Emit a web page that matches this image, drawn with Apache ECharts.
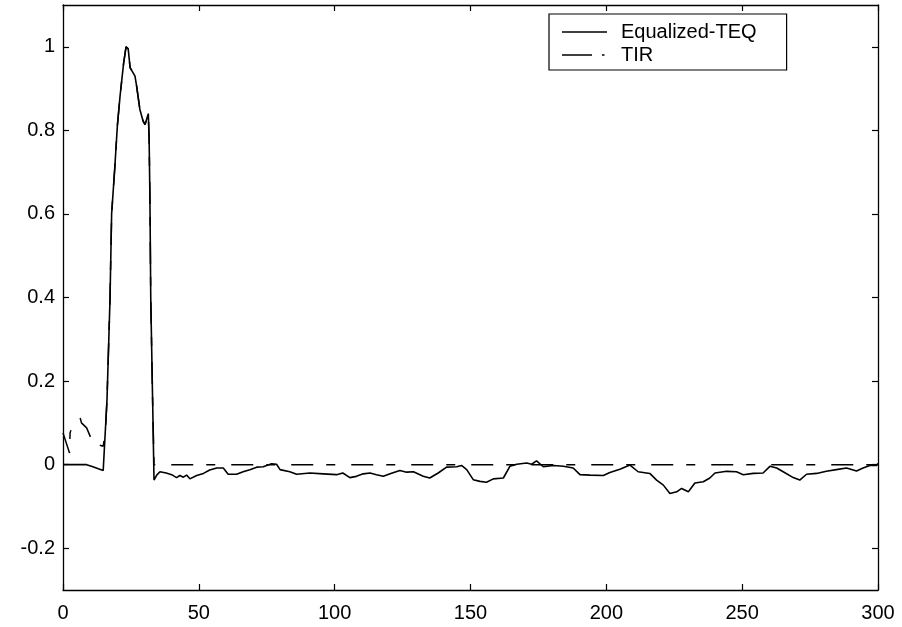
<!DOCTYPE html>
<html>
<head>
<meta charset="utf-8">
<script src="https://cdn.jsdelivr.net/npm/echarts@6/dist/echarts.min.js"></script>
<style>html,body{margin:0;padding:0;background:#fff}#c{width:902px;height:627px}</style>
</head>
<body>
<div id="c"></div>
<script>
var xTicks = [0, 50, 100, 150, 200, 250, 300];
var yTicks = [-0.2, 0, 0.2, 0.4, 0.6, 0.8, 1];
var seriesNames = ['Equalized-TEQ', 'TIR'];

var teqLeadN = [0, 8.7, 11, 13, 14.8];
var teqLeadV = [0, 0, -0.005, -0.01, -0.014];

var peakN = [16.2, 17.3, 17.9, 19.1, 20, 21, 22.3, 23.2, 24, 24.7, 26.5, 27.1, 28.3, 29.5, 30.2, 31.4, 31.7, 32, 32.3, 33];
var peakV = [0.156, 0.395, 0.6, 0.714, 0.81, 0.882, 0.96, 1.0, 0.995, 0.95, 0.93, 0.906, 0.85, 0.822, 0.814, 0.84, 0.78, 0.635, 0.4, 0.15];

var teqTailN = [33.5, 34.5, 35.7, 38, 40, 41.8, 43, 44.3, 45.5, 46.7, 49.2, 51.7, 54, 56.6, 59, 60.8, 63.9, 66.3, 68.8, 71.3, 73.7, 76.8, 78.6, 79.9, 83.5, 86, 90.9, 95.8, 100.7, 103, 105.6, 108, 110.5, 113, 115.4, 117.9, 120.4, 124, 126.5, 129, 132.6, 135, 138.1, 141.2, 144.9, 146.7, 148.6, 151, 153.5, 155.9, 158.4, 162.1, 164.5, 167, 170.7, 172.5, 174.3, 176.8, 180.5, 184.2, 187.8, 190.3, 194, 198.9, 201.3, 205, 208.7, 211.7, 212.4, 216, 218.5, 221, 223.4, 225.9, 227.7, 230.2, 232.6, 235.7, 238.1, 240, 244.3, 247.9, 250.4, 254.1, 257.7, 260.2, 262.7, 265.1, 268.8, 271.2, 273.7, 277.4, 281, 284.7, 288.4, 292.1, 294.5, 297, 299.5, 300];
var teqTailV = [-0.037, -0.025, -0.017, -0.02, -0.024, -0.031, -0.026, -0.03, -0.025, -0.034, -0.026, -0.021, -0.013, -0.008, -0.008, -0.023, -0.023, -0.017, -0.012, -0.006, -0.005, 0.002, 0.001, -0.012, -0.017, -0.023, -0.02, -0.022, -0.024, -0.02, -0.031, -0.028, -0.022, -0.02, -0.024, -0.028, -0.022, -0.014, -0.018, -0.017, -0.028, -0.032, -0.02, -0.006, -0.005, -0.002, -0.012, -0.036, -0.04, -0.042, -0.034, -0.032, -0.004, 0.001, 0.004, 0.001, 0.009, -0.005, -0.002, -0.004, -0.008, -0.024, -0.025, -0.026, -0.019, -0.011, -0.001, -0.017, -0.015, -0.021, -0.037, -0.049, -0.069, -0.065, -0.057, -0.065, -0.044, -0.041, -0.032, -0.02, -0.016, -0.017, -0.024, -0.021, -0.02, -0.004, -0.008, -0.017, -0.031, -0.037, -0.023, -0.021, -0.016, -0.012, -0.008, -0.015, -0.008, -0.002, -0.002, 0.003];

var tirLeadN = [0, 2.4, 2.6, 3.3, 5.5, 6.3, 6.8, 8.7, 10.5, 12.8, 14.8, 15.6];
var tirLeadV = [0.076, 0.028, 0.076, 0.09, 0.102, 0.112, 0.1, 0.088, 0.06, 0.048, 0.044, 0.08];
var tirTailN = [33.5, 300];
var tirTailV = [0, 0];

function pairs(ns, vs) {
  var out = [];
  for (var i = 0; i < ns.length; i++) out.push([ns[i], vs[i]]);
  return out;
}
var teqData = pairs(teqLeadN, teqLeadV).concat(pairs(peakN, peakV), pairs(teqTailN, teqTailV));
var tirData = pairs(tirLeadN, tirLeadV).concat(pairs(peakN, peakV), pairs(tirTailN, tirTailV));

var FONT = 'Liberation Sans';
var fmt = function (v) { return String(+(+v).toFixed(1)); };
var axLine = { show: true, onZero: false, lineStyle: { color: '#000', width: 1.3 } };
var tick = { show: true, inside: true, length: 6, lineStyle: { color: '#000', width: 1.2 } };

// legend sample glyphs (45 x 20 box, tiny corner anchors keep the box size)
var anchors = 'M0 0h.01v.01h-.01z M44.99 0h.01v.01h-.01z M0 19.99h.01v.01h-.01z M44.99 19.99h.01v.01h-.01z ';
var iconSolid = 'path://' + anchors + 'M0 9.2h45v1.6h-45z';
var iconDashDot = 'path://' + anchors + 'M0 9.25h30v1.5h-30z M40 9.25h2.5v1.5h-2.5z';

var chart = echarts.init(document.getElementById('c'), null, { renderer: 'canvas' });
chart.setOption({
  backgroundColor: '#fff',
  animation: false,
  grid: { left: 63, right: 24, top: 5, bottom: 37, containLabel: false },
  legend: {
    left: 549, top: 14, orient: 'vertical',
    data: [{ name: seriesNames[0], icon: iconSolid }, { name: seriesNames[1], icon: iconDashDot }],
    backgroundColor: '#fff',
    borderColor: '#000', borderWidth: 1.2, borderRadius: 0,
    padding: [8, 30, 5, 13],
    itemWidth: 45, itemHeight: 20, itemGap: 3,
    itemStyle: { color: '#000', borderWidth: 0 },
    textStyle: { fontFamily: FONT, fontSize: 20, color: '#000', padding: [0, 0, 0, 9] }
  },
  xAxis: [{
    type: 'value', min: 0, max: 300, interval: 50,
    axisLine: axLine, axisTick: tick, splitLine: { show: false },
    axisLabel: { fontFamily: FONT, fontSize: 20, color: '#000', margin: 13, customValues: xTicks }
  }, {
    type: 'value', position: 'top', min: 0, max: 300, interval: 50,
    axisLine: axLine, axisTick: tick, splitLine: { show: false }, axisLabel: { show: false }
  }],
  yAxis: [{
    type: 'value', min: -0.3, max: 1.1, interval: 0.1,
    axisLine: axLine,
    axisTick: Object.assign({}, tick, { customValues: yTicks }),
    splitLine: { show: false },
    axisLabel: { fontFamily: FONT, fontSize: 20, color: '#000', margin: 8, customValues: yTicks, formatter: fmt }
  }, {
    type: 'value', position: 'right', min: -0.3, max: 1.1, interval: 0.1,
    axisLine: axLine,
    axisTick: Object.assign({}, tick, { customValues: yTicks }),
    splitLine: { show: false }, axisLabel: { show: false }
  }],
  series: [{
    name: seriesNames[0], type: 'line', data: teqData, symbol: 'none', z: 3,
    lineStyle: { color: '#000', width: 1.6, type: 'solid' }, itemStyle: { color: '#000' }
  }, {
    name: seriesNames[1], type: 'line', data: tirData, symbol: 'none', z: 2,
    lineStyle: { color: '#000', width: 1.5, type: [22, 13, 9, 16], dashOffset: 0 }, itemStyle: { color: '#000' }
  }]
});
</script>
</body>
</html>
